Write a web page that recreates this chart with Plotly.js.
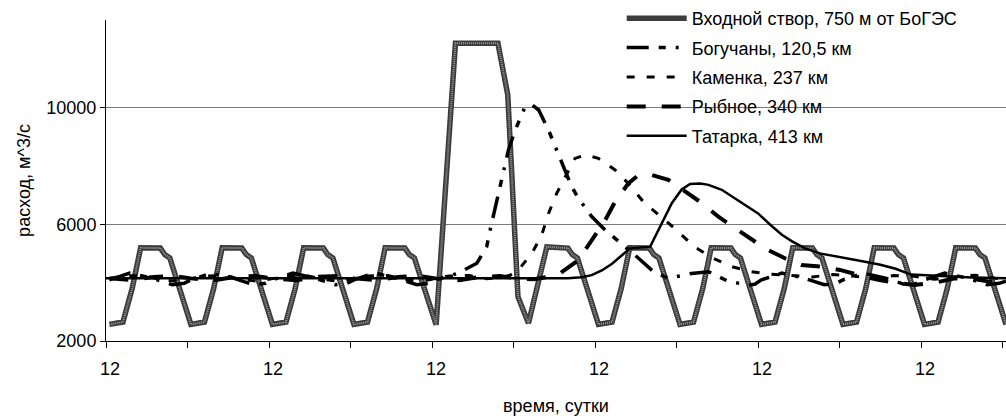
<!DOCTYPE html>
<html>
<head>
<meta charset="utf-8">
<script src="https://cdn.plot.ly/plotly-3.0.1.min.js"></script>
<style>
  html, body { margin: 0; padding: 0; background: #fff; }
  #chart { width: 1006px; height: 416px; }
</style>
</head>
<body>
<div id="chart"></div>
<script>
// Time axis is in hours from the start of the record; one tick per day.
const dayTicks = [0, 24, 48, 72, 96, 120, 144, 168, 192, 216, 240, 264];
const dayLabels = ['12', '', '12', '', '12', '', '12', '', '12', '', '12', ''];
const yTicks = [2000, 6000, 10000];
const yLabels = ['2000', '6000', '10000'];

// Входной створ, 750 м от БоГЭС — daily regulation with the release wave on day 5
const inletT = [
  1, 5, 7.7, 10.2, 16, 17.3, 18.8,
  25, 29, 31.7, 34.2, 40, 41.3, 42.8,
  49, 53, 55.7, 58.2, 64, 65.3, 66.8,
  73, 77, 79.7, 82.2, 88, 89.3, 90.8,
  97.2, 102.9, 115.4, 118.3, 121.3, 124.4, 129.8, 136, 137.3, 138.8,
  145, 149, 151.7, 154.2, 160, 161.3, 162.8,
  169, 173, 175.7, 178.2, 184, 185.3, 186.8,
  193, 197, 199.7, 202.2, 208, 209.3, 210.8,
  217, 221, 223.7, 226.2, 232, 233.3, 234.8,
  241, 245, 247.7, 250.2, 256, 257.3, 258.8, 265
];
const inletQ = [
  2570, 2650, 3800, 5200, 5190, 4970, 4850,
  2570, 2650, 3800, 5200, 5190, 4970, 4850,
  2570, 2650, 3800, 5200, 5190, 4970, 4850,
  2570, 2650, 3800, 5200, 5190, 4970, 4850,
  2560, 12220, 12220, 10450, 3520, 2610, 5230, 5190, 4970, 4850,
  2570, 2650, 3800, 5200, 5190, 4970, 4850,
  2570, 2650, 3800, 5200, 5190, 4970, 4850,
  2570, 2650, 3800, 5200, 5190, 4970, 4850,
  2570, 2650, 3800, 5200, 5190, 4970, 4850,
  2570, 2650, 3800, 5200, 5190, 4970, 4850, 2570
];

// Богучаны, 120,5 км
const bogT = [
  1, 7, 13.5, 19.5, 23,
  25, 31, 37.5, 43.5, 47,
  49, 55, 61.5, 67.5, 71,
  73, 79, 85.5, 91.5, 95,
  97, 103.5, 109.2, 112.1, 113.1, 116.1, 118.5, 120.5, 123.4, 125.5, 127.4,
  130.3, 134.2, 137.1, 139.1, 143, 147, 152.9, 156.8, 161.2, 165.6,
  172.4, 177.4, 183.2, 189, 191,
  193, 199, 205.5, 211.5, 215,
  217, 223, 229.5, 235.5, 239,
  241, 247, 253.5, 259.5, 263, 265
];
const bogQ = [
  4100, 4330, 4160, 3930, 3980,
  4100, 4330, 4160, 3930, 3980,
  4100, 4330, 4160, 3930, 3980,
  4100, 4330, 4160, 3930, 3980,
  4100, 4320, 4670, 5240, 5810, 7300, 8560, 9240, 10040, 10100, 9930,
  9240, 8100, 7300, 6900, 6270, 5810, 5240, 4840, 4380, 4150,
  4320, 4380, 4050, 3920, 3950,
  4100, 4330, 4160, 3930, 3980,
  4100, 4330, 4160, 3930, 3980,
  4100, 4330, 4160, 3930, 3980, 4050
];

// Каменка, 237 км
const kamT = [
  1, 5, 11, 16, 21,
  25, 29, 35, 40, 45,
  49, 53, 59, 64, 69,
  73, 77, 83, 88, 93,
  97, 101, 107, 112, 116, 119, 121.5, 125.4, 128.3, 130.3, 132.7, 135.7, 138.1,
  141.1, 145, 149.9, 153.8, 158.2, 162.6, 167.6, 173.2, 178.5, 184.4, 190,
  195.3, 202, 208, 214, 220, 226, 232, 238, 244, 250, 256, 262, 265
];
const kamQ = [
  4150, 4230, 4250, 4110, 4050,
  4150, 4230, 4250, 4110, 4050,
  4150, 4230, 4250, 4110, 4050,
  4150, 4230, 4250, 4110, 4050,
  4150, 4230, 4250, 4140, 4170, 4260, 4450, 5010, 5640, 6380, 7070, 7760, 8270,
  8390, 8270, 7870, 7410, 6780, 6330, 5850, 5240, 4850, 4550, 4380,
  4300, 4250, 4200, 4280, 4230, 4150, 4250, 4220, 4120, 4200, 4260, 4150, 4120
];

// Рыбное, 340 км
const rybT = [
  1, 8, 14, 20,
  25, 32, 38, 44,
  49, 56, 62, 68,
  73, 80, 86, 92,
  97, 104, 110, 116, 121, 126, 130, 133.7, 139.1, 143, 147, 149.9, 153.8,
  156.8, 160.7, 165.6, 170.5, 174.9, 180.3, 184.7, 190.1, 194, 199.9, 204.8,
  210.7, 216.1, 221.5, 227.4, 233.7, 238.1, 244, 250, 256, 262, 265
];
const rybQ = [
  4150, 4090, 4200, 4230,
  4150, 4090, 4200, 4230,
  4150, 4090, 4200, 4230,
  4150, 4090, 4200, 4230,
  4150, 4090, 4200, 4230, 4150, 4120, 4200, 4320, 4780, 5470, 6150, 6780, 7410,
  7700, 7700, 7530, 7130, 6780, 6270, 5920, 5520, 5180, 4840, 4610,
  4550, 4440, 4270, 4100, 3980, 3920, 4000, 4150, 4120, 4000, 3980
];

// Татарка, 413 км
const tatT = [
  0, 136, 140, 143, 146, 149, 152, 154.3, 160.2, 163.6, 166.6, 169.5, 172,
  175, 177.4, 181.3, 185, 189, 192, 195.5, 199, 202, 206, 210.5, 217,
  223.5, 228, 232.5, 237, 245, 255, 265
];
const tatQ = [
  4150, 4150, 4190, 4260, 4420, 4650, 4950, 5180, 5230, 6040, 6730, 7200, 7390,
  7410, 7360, 7190, 6900, 6600, 6380, 6000, 5650, 5420, 5170, 5000, 4870,
  4720, 4620, 4480, 4280, 4230, 4180, 4150
];

const seriesNames = [
  'Входной створ, 750 м от БоГЭС',
  'Богучаны, 120,5 км',
  'Каменка, 237 км',
  'Рыбное, 340 км',
  'Татарка, 413 км'
];

const FONT = 'Liberation Sans, Arial, sans-serif';
const TXT = { family: FONT, size: 18, color: '#000' };

const traces = [
  { x: inletT, y: inletQ, name: seriesNames[0], legendgroup: 'g0', mode: 'lines',
    line: { color: '#3c3c3c', width: 5.5 } },
  { x: inletT, y: inletQ, name: seriesNames[0], legendgroup: 'g0', showlegend: false,
    mode: 'lines', hoverinfo: 'skip',
    line: { color: '#9a9a9a', width: 2, dash: '1px,1px' } },
  { x: bogT, y: bogQ, name: seriesNames[1], legendgroup: 'g1', mode: 'lines',
    line: { color: '#000', width: 3.5, dash: '22px,10px,7px,10px,3px,10px' } },
  { x: kamT, y: kamQ, name: seriesNames[2], legendgroup: 'g2', mode: 'lines',
    line: { color: '#000', width: 3, dash: '8px,12px' } },
  { x: rybT, y: rybQ, name: seriesNames[3], legendgroup: 'g3', mode: 'lines',
    line: { color: '#000', width: 4, dash: '19px,16px' } },
  { x: tatT, y: tatQ, name: seriesNames[4], legendgroup: 'g4', mode: 'lines',
    line: { color: '#000', width: 2.5 } }
];

const layout = {
  width: 1006,
  height: 416,
  margin: { l: 106, r: 0, t: 20, b: 75, pad: 0 },
  paper_bgcolor: '#fff',
  plot_bgcolor: '#fff',
  font: TXT,
  showlegend: true,
  legend: {
    x: 0.573, xanchor: 'left',
    y: 1.0623, yanchor: 'top',
    bgcolor: 'rgba(0,0,0,0)',
    borderwidth: 0,
    itemwidth: 60,
    tracegroupgap: 3,
    traceorder: 'grouped',
    font: TXT
  },
  xaxis: {
    type: 'linear',
    range: [0, 265],
    tickmode: 'array',
    tickvals: dayTicks,
    ticktext: dayLabels,
    ticks: 'outside',
    ticklen: 6,
    tickcolor: '#000',
    ticklabelshift: 4,
    ticklabelstandoff: 5,
    showline: true,
    linecolor: '#000',
    linewidth: 1,
    showgrid: false,
    zeroline: false,
    tickfont: TXT,
    title: { text: 'время, сутки', font: TXT, standoff: 28 }
  },
  yaxis: {
    range: [2000, 13020],
    tickmode: 'array',
    tickvals: yTicks,
    ticktext: yLabels,
    ticks: 'outside',
    ticklen: 5,
    tickcolor: '#000',
    showline: true,
    linecolor: '#000',
    linewidth: 1,
    showgrid: true,
    gridcolor: '#7a7a7a',
    gridwidth: 1,
    zeroline: false,
    tickfont: TXT,
    title: { text: 'расход, м^3/с', font: TXT, standoff: 11 }
  },
  shapes: [
    // blank area behind the legend, hides the upper gridline there
    { type: 'rect', layer: 'between', xref: 'paper', yref: 'paper',
      x0: 0.5067, x1: 1, y0: 0.6, y1: 1,
      fillcolor: '#fff', line: { width: 0 } }
  ]
};

Plotly.newPlot('chart', traces, layout, { displayModeBar: false, staticPlot: true });
</script>
</body>
</html>
